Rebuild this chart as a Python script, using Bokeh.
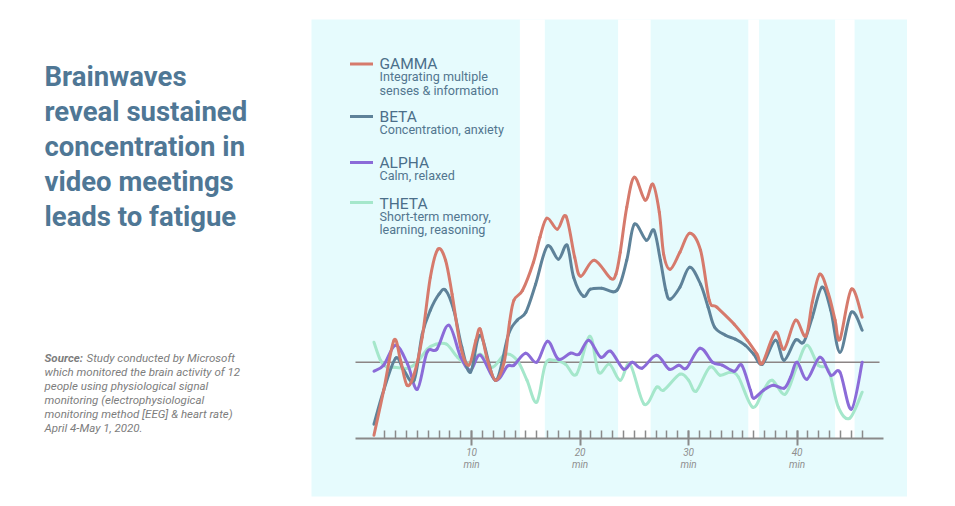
from bokeh.plotting import figure
from bokeh.models import Range1d, LinearAxis, FixedTicker, Label, ColumnDataSource
from bokeh.embed import file_html
from bokeh.resources import INLINE

# ---------------- data ----------------
gamma_min = [1.0, 1.9, 2.85, 3.45, 4.05, 4.7, 5.45, 6.2, 6.9, 7.6,
             8.2, 9.0, 9.75, 10.4, 10.8, 11.4, 12.2, 13.0, 13.5, 13.9,
             14.7, 15.7, 16.3, 16.95, 17.9, 18.7, 19.5, 20.05, 21.3, 22.8,
             23.3, 23.7, 24.3, 25.0, 26.0, 26.7, 27.3, 27.7, 28.3, 29.2,
             30.1, 31.1, 31.9, 32.6, 34.2, 35.4, 36.3, 36.8, 38.0, 38.8,
             39.85, 40.8, 41.4, 42.1, 42.9, 43.5, 43.95, 45.0, 46.0]
gamma = [-73, -28, 22, 2, -23, -12, 25, 85, 113, 102,
         68, 15, -3, 22, 33, 5, -18, 0, 40, 62,
         72, 100, 125, 144, 133, 146, 105, 86, 102, 84,
         88, 110, 155, 185, 162, 178, 150, 108, 93, 110,
         129, 112, 62, 55, 38, 22, 8, -1, 30, 13,
         42, 26, 60, 88, 68, 42, 23, 73, 45]

beta_min = [1.0, 1.9, 3.0, 3.75, 4.7, 5.45, 6.2, 7.0, 7.6, 8.36,
            9.1, 9.9, 10.8, 12.2, 13.4, 14.2, 15.0, 15.9, 16.97, 18.0,
            18.8, 19.4, 20.3, 20.95, 22.0, 23.4, 24.3, 25.0, 26.1, 26.8,
            27.4, 27.9, 28.3, 29.2, 30.1, 31.1, 31.8, 32.4, 33.4, 34.3,
            35.2, 36.0, 36.8, 38.0, 38.8, 39.85, 40.6, 41.4, 42.3, 43.1,
            43.95, 45.0, 46.0]
beta = [-62, -28, 4, -8, -18, 28, 52, 68, 72, 52,
        15, -10, 27, -18, 28, 42, 50, 78, 116, 103,
        117, 85, 66, 73, 74, 72, 102, 138, 122, 132,
        102, 72, 63, 75, 95, 78, 55, 35, 27, 23,
        17, 8, -2, 22, 2, 22, 20, 45, 75, 52,
        10, 50, 32]

alpha_min = [1.0, 1.9, 3.0, 4.1, 5.0, 5.9, 6.8, 7.9, 9.0, 9.9,
             10.8, 12.2, 13.3, 13.9, 14.97, 16.0, 17.0, 18.0, 19.1, 19.9,
             20.8, 21.9, 22.8, 24.0, 24.8, 25.7, 27.05, 28.2, 29.1, 29.8,
             31.05, 32.2, 33.1, 34.2, 34.9, 35.7, 36.0, 36.9, 37.8, 38.8,
             39.4, 40.0, 40.9, 42.1, 43.1, 43.95, 45.0, 46.0]
alpha = [-9, -3, 17, -2, -27, 10, 13, 37, 5, -8,
         7, -18, -4, -3, 9, 0, 21, 3, 9, 8,
         22, 5, 11, -7, 0, -6, 7, -7, -3, -6,
         14, 0, -3, -9, -3, -28, -36, -28, -23, -26,
         -15, 0, -17, 5, -13, -10, -47, 0]

theta_min = [1.0, 1.6, 2.2, 2.9, 4.1, 5.0, 5.9, 6.7, 7.7, 8.7,
             9.6, 10.8, 11.9, 13.1, 14.2, 15.1, 16.0, 16.8, 17.6, 18.65,
             19.67, 20.9, 21.7, 22.7, 23.7, 24.6, 25.9, 27.05, 27.7, 29.2,
             30.0, 30.7, 31.95, 32.9, 33.85, 34.6, 35.9, 36.9, 37.7, 38.9,
             39.95, 40.9, 41.95, 42.9, 43.8, 44.85, 46.0]
theta = [20, 2, -5, -5, -6, 0, 13, 18, 18, 5,
         -2, 8, -5, 8, 2, -18, -40, -2, 2, -2,
         -12, 26, -10, -2, -18, -2, -42, -25, -28, -12,
         -18, -29, -5, -13, -10, -15, -45, -28, -18, -32,
         -5, 17, -3, -8, -45, -56, -30]

# meeting breaks (minutes)
break_start = [14.45, 23.5, 35.5, 43.5]
break_end = [16.75, 26.5, 36.5, 45.3]

major_ticks = [10, 20, 30, 40]
tick_labels = ["10", "20", "30", "40"]
tick_unit = "min"
minor_ticks = list(range(2, 47))

series_names = ["GAMMA", "BETA", "ALPHA", "THETA"]
series_desc = [["Integrating multiple", "senses & information"],
               ["Concentration, anxiety"],
               ["Calm, relaxed"],
               ["Short-term memory,", "learning, reasoning"]]
series_colors = ["#d67a6c", "#5e8299", "#8b6bd8", "#a5e7cb"]

title_lines = ["Brainwaves", "reveal sustained", "concentration in",
               "video meetings", "leads to fatigue"]
source_lines = ["which monitored the brain activity of 12",
                "people using physiological signal",
                "monitoring (electrophysiological",
                "monitoring method [EEG] & heart rate)",
                "April 4-May 1, 2020."]

# ---------------- layout helpers (page pixels -> data) ----------------
W, H = 947, 498
MARGIN = 0
X_ZERO_PX = 362.6
PX_PER_MIN = 10.85
Y_ZERO_PX = 361.7


def X(px):
    return (px - X_ZERO_PX) / PX_PER_MIN


def Y(py):
    return Y_ZERO_PX - py


p = figure(width=W, height=H,
           x_range=Range1d(X(MARGIN), X(MARGIN + W)),
           y_range=Range1d(Y(MARGIN + H), Y(MARGIN)),
           toolbar_location=None, output_backend="svg",
           x_axis_location=None, y_axis_location=None,
           min_border=0, outline_line_color=None,
           background_fill_color="white", border_fill_color="white")
p.grid.grid_line_color = None

PANEL = "#e6fbfd"
AXIS_Y = Y(438.0)

# background panel with white breaks
p.quad(left=[X(311)], right=[X(906.5)], top=[Y(19)], bottom=[Y(496)],
       fill_color=PANEL, line_color=None)
p.quad(left=break_start, right=break_end,
       top=[Y(19)] * len(break_start), bottom=[AXIS_Y] * len(break_start),
       fill_color="white", line_color=None)

# zero line
p.segment(x0=[X(355)], y0=[0], x1=[X(879)], y1=[0],
          line_color="#8c8585", line_width=1.6)


def smooth_source(xs, ys):
    n = len(xs)
    d = dict(x0=[], y0=[], x1=[], y1=[], cx0=[], cy0=[], cx1=[], cy1=[])
    for i in range(n - 1):
        a = i - 1 if i > 0 else i
        b = i + 2 if i + 2 < n else i + 1
        d["x0"].append(xs[i]); d["y0"].append(ys[i])
        d["x1"].append(xs[i + 1]); d["y1"].append(ys[i + 1])
        d["cx0"].append(xs[i] + (xs[i + 1] - xs[a]) / 6.0)
        d["cy0"].append(ys[i] + (ys[i + 1] - ys[a]) / 6.0)
        d["cx1"].append(xs[i + 1] - (xs[b] - xs[i]) / 6.0)
        d["cy1"].append(ys[i + 1] - (ys[b] - ys[i]) / 6.0)
    return ColumnDataSource(d)


for xs, ys, col in [(theta_min, theta, series_colors[3]),
                    (alpha_min, alpha, series_colors[2]),
                    (beta_min, beta, series_colors[1]),
                    (gamma_min, gamma, series_colors[0])]:
    p.bezier(x0="x0", y0="y0", x1="x1", y1="y1", cx0="cx0", cy0="cy0",
             cx1="cx1", cy1="cy1", source=smooth_source(xs, ys),
             line_color=col, line_width=3, line_cap="round")

# x axis (fixed inside the frame)
AX = "#8a8a8a"
LBL = "#8f8f8f"
ax = LinearAxis(fixed_location=AXIS_Y,
                ticker=FixedTicker(ticks=major_ticks, minor_ticks=minor_ticks),
                bounds=(X(355), X(883)),
                major_label_overrides={t: s for t, s in zip(major_ticks, tick_labels)},
                axis_line_color=AX, axis_line_width=2,
                major_tick_line_color=AX, major_tick_line_width=2,
                major_tick_in=8, major_tick_out=7,
                minor_tick_line_color=AX, minor_tick_line_width=1.5,
                minor_tick_in=8, minor_tick_out=0,
                major_label_text_font="Roboto", major_label_text_font_style="italic",
                major_label_text_font_size="10px", major_label_text_color=LBL,
                major_label_standoff=2)
p.add_layout(ax, "below")
ax2 = LinearAxis(fixed_location=AXIS_Y,
                 ticker=FixedTicker(ticks=major_ticks, minor_ticks=[]),
                 bounds=(X(355), X(883)),
                 major_label_overrides={t: tick_unit for t in major_ticks},
                 axis_line_color=None, major_tick_line_color=None,
                 minor_tick_line_color=None,
                 major_tick_in=0, major_tick_out=7,
                 major_label_text_font="Roboto", major_label_text_font_style="italic",
                 major_label_text_font_size="10px", major_label_text_color=LBL,
                 major_label_standoff=13)
p.add_layout(ax2, "below")

# legend
swatch_y = [63.5, 116, 162, 202]
head_y = [63.8, 116.2, 162.5, 203]
for i, name in enumerate(series_names):
    p.segment(x0=[X(349.5)], y0=[Y(swatch_y[i])], x1=[X(372.5)], y1=[Y(swatch_y[i])],
              line_color=series_colors[i], line_width=3)
    p.add_layout(Label(x=X(379), y=Y(head_y[i]), text=name, text_font="Roboto",
                       text_font_size="15.5px", text_color="#4b6f8a",
                       text_baseline="alphabetic"))
    for j, line in enumerate(series_desc[i]):
        p.add_layout(Label(x=X(379), y=Y(head_y[i] + 12.5 + 13.2 * j), text=line,
                           text_font="Roboto", text_font_size="12.6px",
                           text_color="#52768f", text_baseline="alphabetic"))

# title
for i, line in enumerate(title_lines):
    p.add_layout(Label(x=X(44), y=Y(75.5 + 35 * i), text=line, text_font="Roboto",
                       text_font_style="bold", text_font_size="27.5px",
                       text_color="#4f7795", text_baseline="alphabetic"))

# source note
SRC = "#7d7d7d"
p.add_layout(Label(x=X(44), y=Y(357.0), text="Source:", text_font="Roboto",
                   text_font_style="bold italic", text_font_size="11.5px",
                   text_color=SRC, text_baseline="alphabetic"))
p.add_layout(Label(x=X(86), y=Y(357.0), text="Study conducted by Microsoft",
                   text_font="Roboto", text_font_style="italic",
                   text_font_size="11.5px", text_color=SRC, text_baseline="alphabetic"))
for i, line in enumerate(source_lines):
    p.add_layout(Label(x=X(44), y=Y(357.0 + 14.0 * (i + 1)), text=line, text_font="Roboto",
                       text_font_style="italic", text_font_size="11.5px",
                       text_color=SRC, text_baseline="alphabetic"))

open("out.html", "w").write(file_html(p, INLINE))
